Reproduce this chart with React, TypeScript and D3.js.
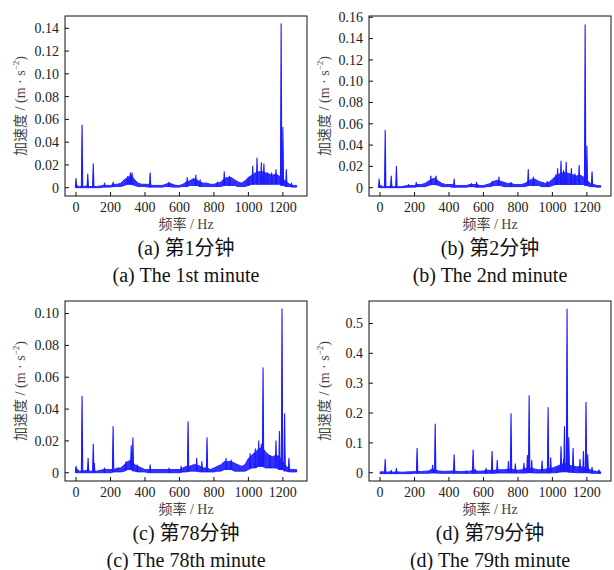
import React from 'react';
import * as d3 from 'd3';

// frequency bins (Hz) used for the noise envelope of every spectrum
const BINS = [
  0, 20, 40, 60, 80, 100, 120, 140, 160, 180, 200, 220, 240, 260, 280, 300, 320, 340, 360, 380,
  400, 420, 440, 460, 480, 500, 520, 540, 560, 580, 600, 620, 640, 660, 680, 700, 720, 740, 760, 780,
  800, 820, 840, 860, 880, 900, 920, 940, 960, 980, 1000, 1020, 1040, 1060, 1080, 1100, 1120, 1140,
  1160, 1180, 1200, 1220, 1240, 1260, 1280,
];

// upper / lower noise envelope, one value per bin
const HI_A = [
  0.002, 0.001, 0.001, 0.0015, 0.001, 0.001, 0.001, 0.0015, 0.002, 0.002, 0.002, 0.003, 0.003, 0.004, 0.007, 0.009, 0.011, 0.007, 0.004, 0.003,
  0.003, 0.003, 0.002, 0.002, 0.002, 0.002, 0.003, 0.004, 0.003, 0.002, 0.002, 0.003, 0.005, 0.006, 0.008, 0.007, 0.005, 0.004, 0.004, 0.003,
  0.003, 0.004, 0.005, 0.008, 0.009, 0.009, 0.007, 0.005, 0.004, 0.006, 0.009, 0.011, 0.013, 0.014, 0.014, 0.013, 0.012, 0.011,
  0.012, 0.01, 0.008, 0.005, 0.003, 0.002, 0.002,
];
const LO_A = [
  0.0, 0.0, 0.0, 0.0, 0.0, 0.0, 0.0, 0.0, 0.0005, 0.0005, 0.0005, 0.001, 0.001, 0.001, 0.002, 0.003, 0.003, 0.002, 0.001, 0.001,
  0.001, 0.0005, 0.0005, 0.0005, 0.0005, 0.0005, 0.001, 0.001, 0.0005, 0.0005, 0.0005, 0.001, 0.001, 0.002, 0.002, 0.002, 0.001, 0.001, 0.001, 0.001,
  0.001, 0.001, 0.001, 0.002, 0.002, 0.002, 0.002, 0.001, 0.001, 0.001, 0.002, 0.003, 0.003, 0.003, 0.003, 0.003, 0.003, 0.003,
  0.003, 0.003, 0.002, 0.001, 0.001, 0.0005, 0.0005,
];
// [frequency, amplitude] of the narrow peaks
const SPIKES_A = [
  [0, 0.008], [35, 0.055], [68, 0.012], [100, 0.021], [165, 0.004], [215, 0.005], [300, 0.01], [315, 0.013], [325, 0.013],
  [430, 0.013], [540, 0.005], [645, 0.009], [695, 0.011], [720, 0.007], [820, 0.005], [860, 0.014], [890, 0.01], [1000, 0.009],
  [1025, 0.019], [1050, 0.026], [1075, 0.022], [1090, 0.021], [1110, 0.013], [1135, 0.013], [1160, 0.016], [1190, 0.144],
  [1200, 0.053], [1220, 0.016], [1250, 0.004],
];

const HI_B = [
  0.002, 0.001, 0.001, 0.0015, 0.001, 0.001, 0.001, 0.0015, 0.002, 0.002, 0.002, 0.003, 0.003, 0.004, 0.006, 0.008, 0.009, 0.006, 0.004, 0.003,
  0.003, 0.003, 0.002, 0.002, 0.002, 0.002, 0.003, 0.003, 0.003, 0.002, 0.002, 0.003, 0.004, 0.006, 0.007, 0.006, 0.005, 0.004, 0.004, 0.003,
  0.003, 0.003, 0.004, 0.006, 0.008, 0.008, 0.006, 0.005, 0.004, 0.005, 0.008, 0.011, 0.013, 0.014, 0.014, 0.013, 0.012, 0.011,
  0.012, 0.01, 0.007, 0.004, 0.003, 0.002, 0.002,
];
const LO_B = LO_A.slice();
const SPIKES_B = [
  [-5, 0.008], [30, 0.054], [65, 0.011], [95, 0.02], [165, 0.003], [210, 0.005], [295, 0.011], [325, 0.011], [430, 0.008],
  [530, 0.004], [560, 0.005], [650, 0.006], [690, 0.01], [760, 0.005], [860, 0.017], [890, 0.01], [970, 0.006], [1020, 0.012],
  [1030, 0.018], [1050, 0.025], [1065, 0.016], [1080, 0.024], [1110, 0.018], [1130, 0.013], [1155, 0.021], [1190, 0.153],
  [1200, 0.039], [1230, 0.015],
];

const HI_C = [
  0.003, 0.001, 0.001, 0.0015, 0.001, 0.001, 0.001, 0.0015, 0.002, 0.002, 0.002, 0.002, 0.003, 0.003, 0.005, 0.007, 0.008, 0.005, 0.004, 0.003,
  0.002, 0.002, 0.002, 0.002, 0.002, 0.002, 0.002, 0.002, 0.002, 0.002, 0.002, 0.003, 0.004, 0.004, 0.005, 0.005, 0.004, 0.003, 0.003, 0.002,
  0.003, 0.004, 0.005, 0.007, 0.007, 0.007, 0.006, 0.005, 0.004, 0.005, 0.009, 0.011, 0.013, 0.015, 0.016, 0.013, 0.011, 0.01,
  0.011, 0.01, 0.007, 0.004, 0.002, 0.002, 0.002,
];
const LO_C = [
  0.0, 0.0, 0.0, 0.0, 0.0, 0.0, 0.0, 0.0, 0.0, 0.0, 0.0, 0.0005, 0.0005, 0.0005, 0.001, 0.002, 0.002, 0.001, 0.0005, 0.0005,
  0.0005, 0.0, 0.0, 0.0, 0.0, 0.0, 0.0, 0.0, 0.0, 0.0, 0.0, 0.0005, 0.0005, 0.001, 0.001, 0.001, 0.0005, 0.0005, 0.0005, 0.0005,
  0.0005, 0.001, 0.001, 0.002, 0.002, 0.002, 0.001, 0.001, 0.001, 0.001, 0.002, 0.003, 0.003, 0.004, 0.004, 0.003, 0.003, 0.003,
  0.003, 0.002, 0.002, 0.001, 0.0005, 0.0005, 0.0005,
];
const SPIKES_C = [
  [0, 0.004], [35, 0.048], [70, 0.009], [100, 0.018], [106, 0.006], [165, 0.003], [215, 0.029], [290, 0.007], [320, 0.017],
  [330, 0.022], [355, 0.005], [430, 0.005], [540, 0.003], [610, 0.004], [650, 0.032], [700, 0.009], [730, 0.007], [760, 0.022],
  [870, 0.009], [900, 0.008], [1010, 0.012], [1040, 0.015], [1060, 0.02], [1075, 0.018], [1085, 0.066], [1125, 0.011],
  [1160, 0.02], [1180, 0.026], [1195, 0.103], [1210, 0.037], [1235, 0.009],
];

const HI_D = [
  0.003, 0.003, 0.002, 0.003, 0.002, 0.003, 0.002, 0.002, 0.003, 0.003, 0.004, 0.004, 0.004, 0.005, 0.006, 0.012, 0.01, 0.006, 0.005, 0.005,
  0.005, 0.006, 0.005, 0.004, 0.004, 0.005, 0.005, 0.008, 0.006, 0.005, 0.006, 0.008, 0.008, 0.008, 0.01, 0.01, 0.01, 0.012, 0.012, 0.01,
  0.008, 0.01, 0.014, 0.015, 0.015, 0.012, 0.01, 0.01, 0.012, 0.014, 0.016, 0.02, 0.025, 0.03, 0.03, 0.025, 0.022, 0.02,
  0.02, 0.018, 0.015, 0.01, 0.006, 0.004, 0.003,
];
const LO_D = [
  -0.003, -0.003, -0.003, -0.003, -0.003, -0.003, -0.003, -0.003, -0.003, -0.003, -0.002, -0.002, -0.002, -0.002, -0.002, -0.001, -0.001, -0.002, -0.002, -0.002,
  -0.002, -0.002, -0.002, -0.002, -0.002, -0.002, -0.002, -0.002, -0.002, -0.002, -0.002, -0.002, -0.002, -0.002, -0.001, -0.001, -0.001, -0.001, -0.001, -0.001,
  -0.001, -0.001, -0.001, 0.0, 0.0, -0.001, -0.001, -0.001, -0.001, -0.001, 0.0, 0.0, 0.002, 0.003, 0.003, 0.002, 0.001, 0.0,
  0.0, 0.0, 0.0, -0.001, -0.002, -0.002, -0.003,
];
const SPIKES_D = [
  [30, 0.045], [65, 0.008], [95, 0.015], [215, 0.082], [305, 0.025], [320, 0.163], [430, 0.06], [500, 0.006], [540, 0.076],
  [552, 0.012], [615, 0.015], [650, 0.072], [680, 0.042], [745, 0.038], [760, 0.198], [785, 0.03], [835, 0.032], [855, 0.058],
  [865, 0.258], [880, 0.042], [940, 0.04], [975, 0.218], [990, 0.05], [1030, 0.02], [1050, 0.088], [1065, 0.045], [1070, 0.155],
  [1085, 0.548], [1095, 0.118], [1120, 0.082], [1160, 0.045], [1180, 0.072], [1195, 0.236], [1205, 0.06], [1230, 0.018], [1270, 0.01],
];

const X_TICKS = [0, 200, 400, 600, 800, 1000, 1200];
const Y_TICKS_A = [0, 0.02, 0.04, 0.06, 0.08, 0.1, 0.12, 0.14];
const Y_TICKS_B = [0, 0.02, 0.04, 0.06, 0.08, 0.1, 0.12, 0.14, 0.16];
const Y_TICKS_C = [0, 0.02, 0.04, 0.06, 0.08, 0.1];
const Y_TICKS_D = [0, 0.1, 0.2, 0.3, 0.4, 0.5];

const CAPTIONS_CN = ['(a) 第1分钟', '(b) 第2分钟', '(c) 第78分钟', '(d) 第79分钟'];
const CAPTIONS_EN = ['(a) The 1st minute', '(b) The 2nd minute', '(c) The 78th minute', '(d) The 79th minute'];

const FONT = '"Liberation Serif", "Times New Roman", "Noto Sans CJK SC", serif';
const BLUE = '#1c1cff';

const panels = [
  { hi: HI_A, lo: LO_A, spikes: SPIKES_A, ticks: Y_TICKS_A, yDomain: [-0.0073, 0.1508], dec: 2, left: 65, top: 16 },
  { hi: HI_B, lo: LO_B, spikes: SPIKES_B, ticks: Y_TICKS_B, yDomain: [-0.0078, 0.1612], dec: 2, left: 369, top: 16 },
  { hi: HI_C, lo: LO_C, spikes: SPIKES_C, ticks: Y_TICKS_C, yDomain: [-0.0052, 0.1079], dec: 2, left: 65, top: 301 },
  { hi: HI_D, lo: LO_D, spikes: SPIKES_D, ticks: Y_TICKS_D, yDomain: [-0.0277, 0.5753], dec: 1, left: 369, top: 301 },
];

const W = 242;
const H = 180;

const Panel = ({ p, i }) => {
  const x = d3.scaleLinear().domain([-64, 1340]).range([0, W]);
  const y = d3.scaleLinear().domain(p.yDomain).range([H, 0]);

  const band = BINS.map((f, k) => ({ f, lo: p.lo[k], hi: p.hi[k] }));
  const area = d3.area()
    .x((d) => x(d.f))
    .y0((d) => y(d.lo))
    .y1((d) => y(d.hi));
  const line = d3.line().x((d) => x(d[0])).y((d) => y(d[1]));

  const baseAt = (f) => {
    const k = Math.max(0, Math.min(BINS.length - 1, Math.round(f / 20)));
    return p.lo[k];
  };

  const fmt = (v) => (v === 0 ? '0' : v.toFixed(p.dec));
  const cx = W / 2;

  return (
    <g transform={`translate(${p.left},${p.top})`} fontFamily={FONT}>
      <path d={area(band)} fill={BLUE} stroke={BLUE} strokeWidth={1} strokeOpacity={0.9} fillOpacity={0.9} />
      {p.spikes.map(([f, v], k) => (
        <path
          key={k}
          d={line([[f - 4, baseAt(f)], [f, v], [f + 4, baseAt(f)]])}
          fill={BLUE}
          stroke={BLUE}
          strokeWidth={1.1}
          strokeLinejoin="round"
        />
      ))}
      <rect x={0} y={0} width={W} height={H} fill="none" stroke="#111" strokeWidth={1} />
      {X_TICKS.map((t) => (
        <g key={t} transform={`translate(${x(t)},${H})`}>
          <line y1={0} y2={-4} stroke="#111" />
          <text y={16} textAnchor="middle" fontSize={14} fill="#222">{t}</text>
        </g>
      ))}
      {p.ticks.map((t) => (
        <g key={t} transform={`translate(0,${y(t)})`}>
          <line x1={0} x2={4} stroke="#111" />
          <text x={-6} dy="0.35em" textAnchor="end" fontSize={14} fill="#222">{fmt(t)}</text>
        </g>
      ))}
      <text x={cx} y={H + 33} textAnchor="middle" fontSize={14} fill="#444">频率 / Hz</text>
      <text transform={`translate(-40,${H / 2}) rotate(-90)`} textAnchor="middle" fontSize={14} fill="#444">
        加速度 / (m · s<tspan fontSize={9} dy={-6}>−2</tspan><tspan dy={6}>)</tspan>
      </text>
      <text x={cx} y={H + 59} textAnchor="middle" fontSize={20} fill="#111">{CAPTIONS_CN[i]}</text>
      <text x={cx} y={H + 86} textAnchor="middle" fontSize={20} fill="#111">{CAPTIONS_EN[i]}</text>
    </g>
  );
};

export default function App() {
  return (
    <div style={{ position: 'absolute', left: 0, top: 0 }}>
      <svg width={614} height={570} style={{ display: 'block', background: '#fff' }}>
        {panels.map((p, i) => (
          <Panel key={i} p={p} i={i} />
        ))}
      </svg>
    </div>
  );
}
